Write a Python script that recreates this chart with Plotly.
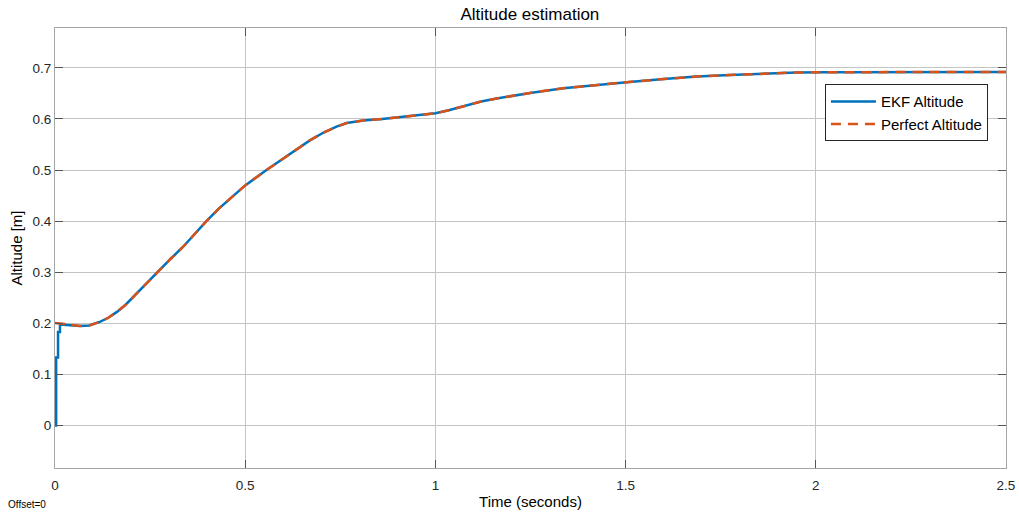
import plotly.graph_objects as go

# Perfect altitude
t_perfect = [0.0, 0.02, 0.04, 0.066, 0.09, 0.118, 0.14, 0.162, 0.185, 0.206, 0.23, 0.25, 0.276,
             0.305, 0.337, 0.368, 0.398, 0.43, 0.464, 0.5, 0.556, 0.6, 0.635, 0.67, 0.705,
             0.74, 0.767, 0.81, 0.86, 0.898, 0.951, 1.0, 1.035, 1.073, 1.12, 1.161, 1.249,
             1.336, 1.424, 1.503, 1.6, 1.687, 1.774, 1.862, 1.95, 2.03, 2.2, 2.5]
alt_perfect = [0.201, 0.199, 0.197, 0.195, 0.196, 0.203, 0.211, 0.222, 0.236, 0.252, 0.270,
               0.286, 0.305, 0.327, 0.350, 0.376, 0.400, 0.424, 0.447, 0.470, 0.500, 0.523,
               0.541, 0.558, 0.573, 0.585, 0.592, 0.597, 0.600, 0.603, 0.606, 0.611, 0.617,
               0.625, 0.634, 0.640, 0.651, 0.660, 0.667, 0.672, 0.678, 0.683, 0.686, 0.689,
               0.691, 0.6915, 0.692, 0.692]

# EKF estimate: initial transient, then tracks perfect altitude
t_ekf_start = [0.0, 0.003, 0.003, 0.008, 0.008, 0.013, 0.013]
alt_ekf_start = [0.0, 0.0, 0.133, 0.133, 0.183, 0.183, 0.198]
t_ekf = t_ekf_start + t_perfect[2:]
alt_ekf = alt_ekf_start + alt_perfect[2:]

x_ticks = [0, 0.5, 1, 1.5, 2, 2.5]
x_tick_labels = ["0", "0.5", "1", "1.5", "2", "2.5"]
y_ticks = [0, 0.1, 0.2, 0.3, 0.4, 0.5, 0.6, 0.7]
y_tick_labels = ["0", "0.1", "0.2", "0.3", "0.4", "0.5", "0.6", "0.7"]

FONT = "Liberation Sans, Arial, Helvetica, sans-serif"

fig = go.Figure()
fig.add_trace(go.Scatter(x=t_ekf, y=alt_ekf, mode="lines", name="EKF Altitude",
                         line=dict(color="#0072BD", width=2.5)))
fig.add_trace(go.Scatter(x=t_perfect, y=alt_perfect, mode="lines", name="Perfect Altitude",
                         line=dict(color="#D95319", width=2.5, dash="10px,7px")))

axis_common = dict(
    showgrid=True, gridcolor="#c4c4c4", gridwidth=1,
    showline=True, linecolor="#a6a6a6", linewidth=1, mirror="ticks",
    ticks="inside", ticklen=8, tickcolor="#555555", tickwidth=1,
    zeroline=False, automargin=False,
    tickfont=dict(family=FONT, size=13.5, color="#262626"),
)

fig.update_layout(
    width=1019, height=516,
    margin=dict(l=55, r=13, t=28, b=48),
    paper_bgcolor="white", plot_bgcolor="white",
    title=dict(text="Altitude estimation", x=0.52, xanchor="center", y=0.972, yanchor="middle",
               font=dict(family=FONT, size=17, color="#000000")),
    xaxis=dict(range=[0, 2.5], tickvals=x_ticks, ticktext=x_tick_labels,
               ticklabelstandoff=5,
               title=dict(text="Time (seconds)", font=dict(family=FONT, size=15, color="#000000"),
                          standoff=4),
               **axis_common),
    yaxis=dict(range=[-0.083, 0.778], tickvals=y_ticks, ticktext=y_tick_labels,
               title=dict(text="Altitude [m]", font=dict(family=FONT, size=15, color="#000000"),
                          standoff=6),
               **axis_common),
    legend=dict(x=0.981, xanchor="right", y=0.872, yanchor="top",
                bgcolor="white", bordercolor="#262626", borderwidth=1,
                font=dict(family=FONT, size=15, color="#000000"),
                tracegroupgap=0, itemwidth=45),
    showlegend=True,
)

fig.add_annotation(text="Offset=0", xref="paper", yref="paper", x=-0.051, y=-0.084,
                   xanchor="left", yanchor="middle", showarrow=False,
                   font=dict(family=FONT, size=10, color="#000000"))

fig.write_html("out.html")
